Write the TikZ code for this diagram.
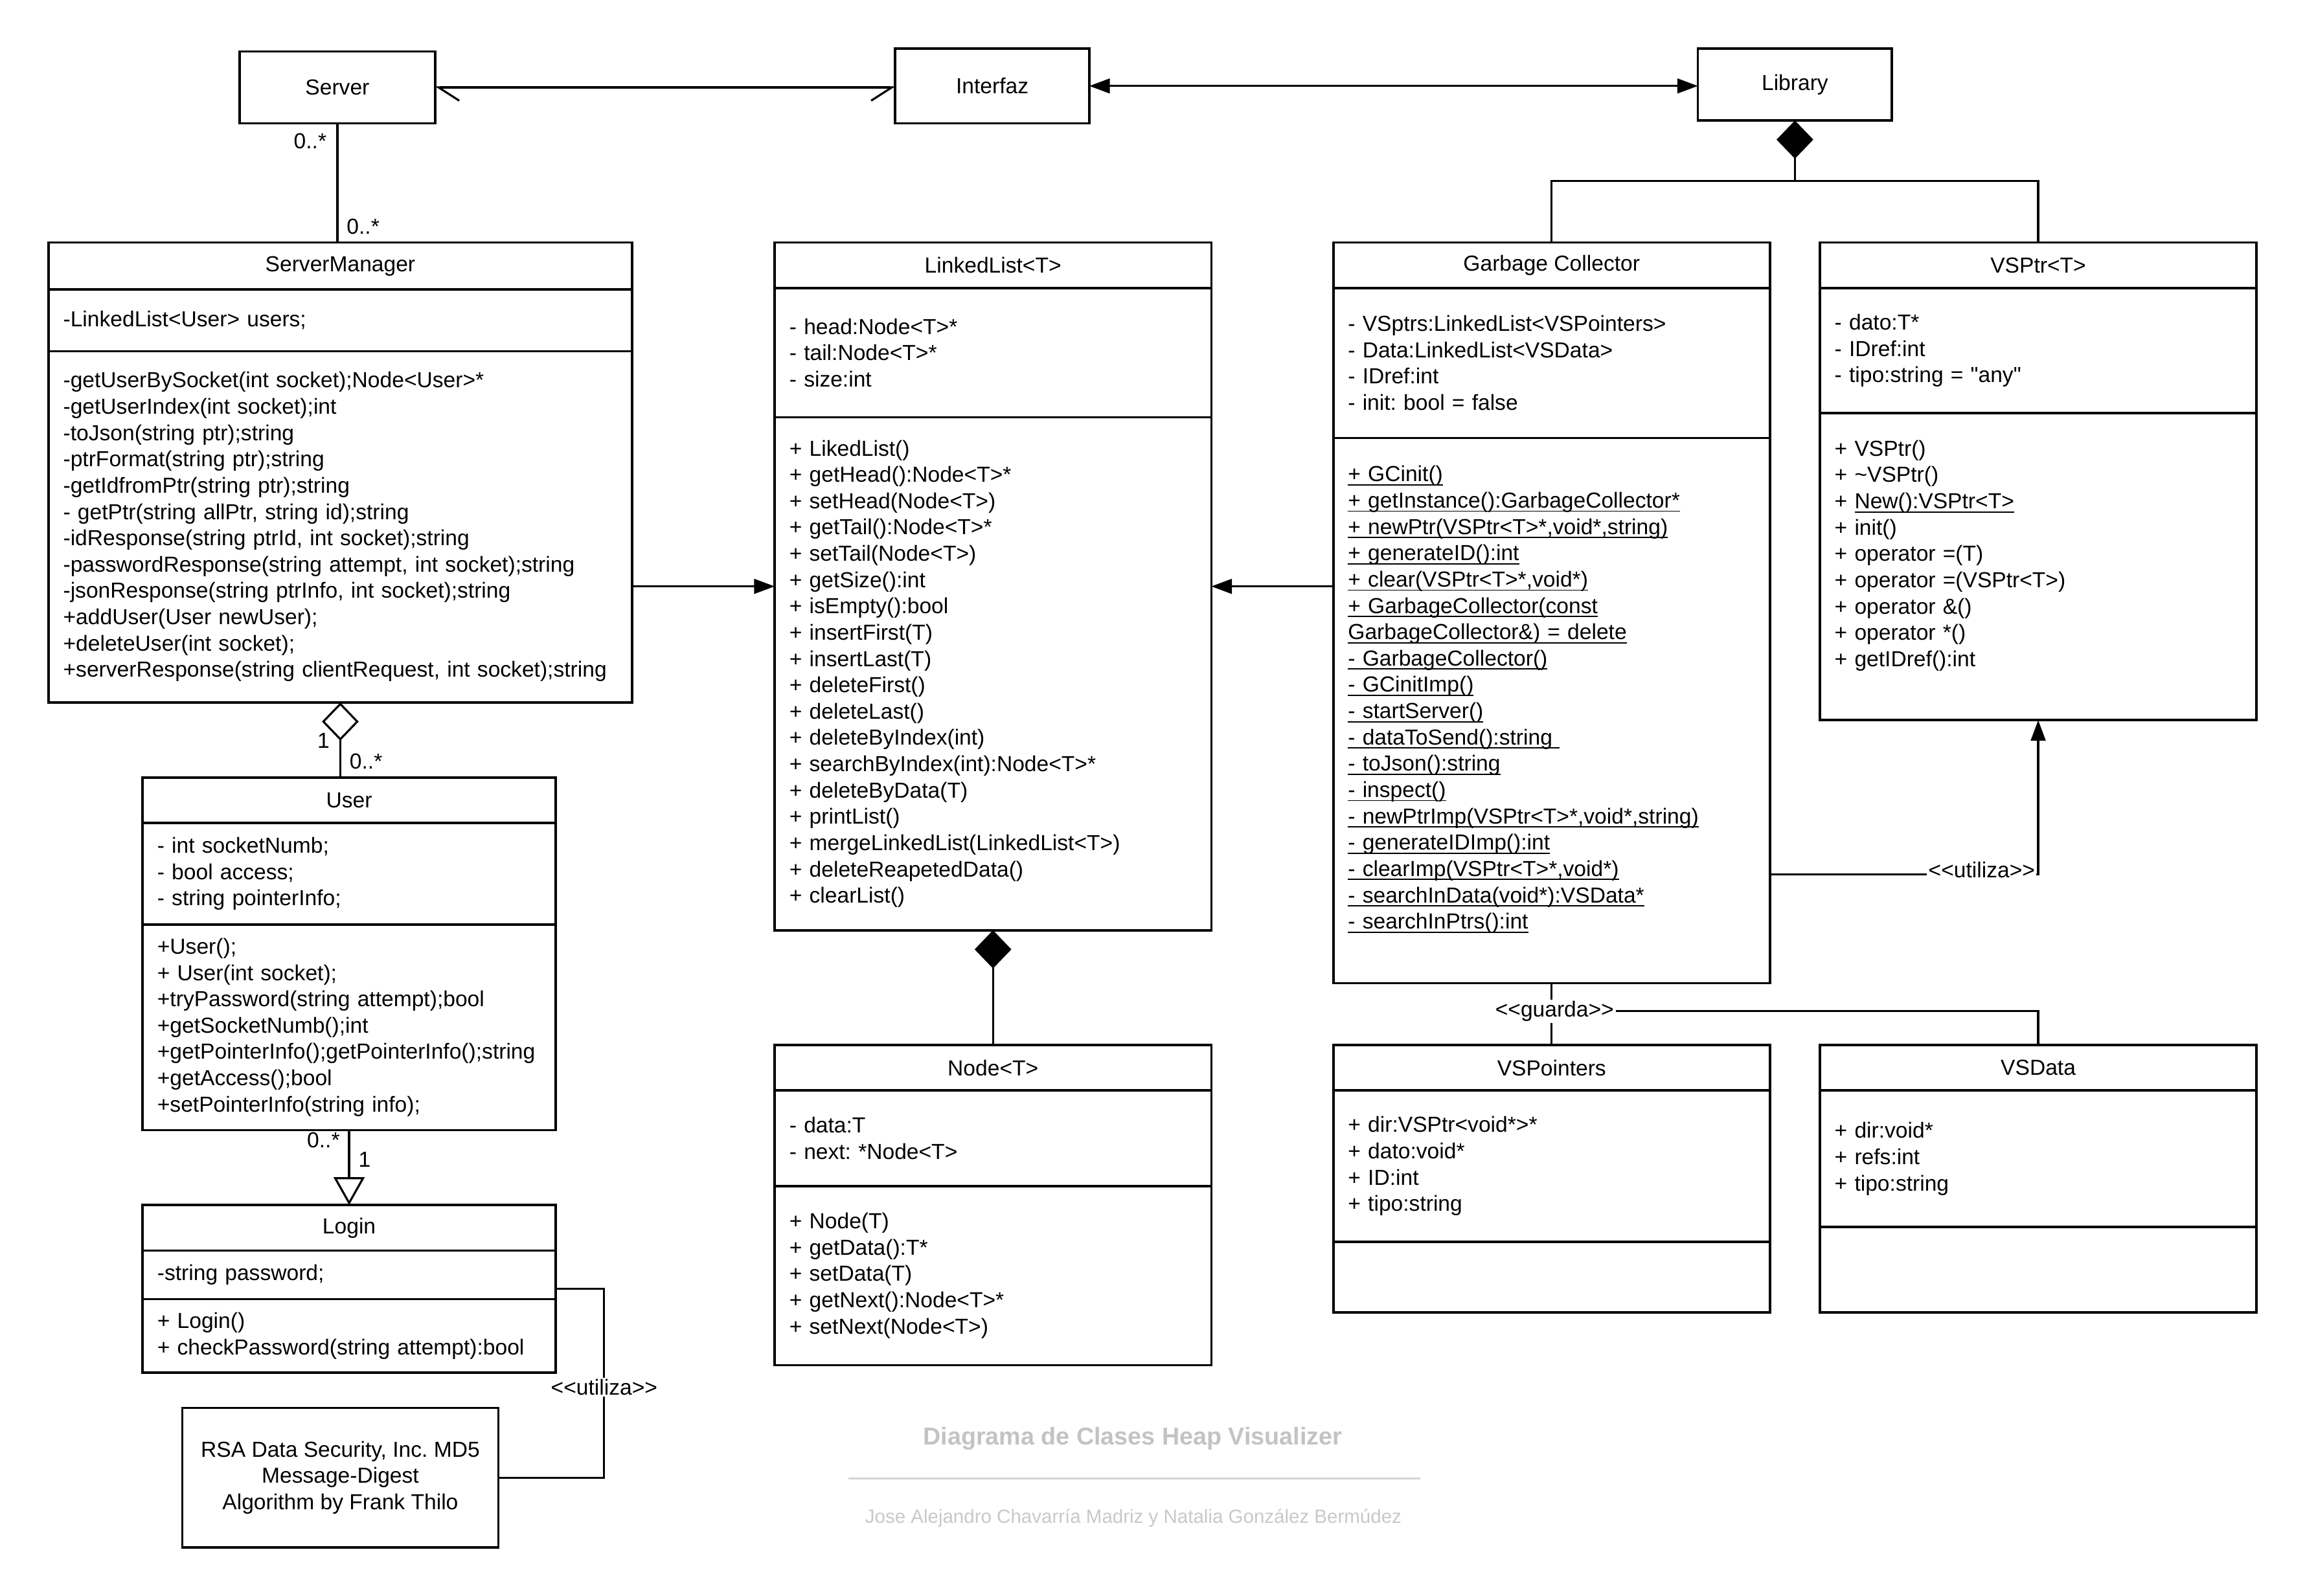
\documentclass[tikz,border=0pt]{standalone}
\usepackage{fontspec}
\setmainfont{Liberation Sans}[Ligatures=TeXOff]
\usetikzlibrary{positioning,arrows.meta}

\definecolor{titlegray}{RGB}{195,195,195}
\definecolor{subgray}{RGB}{200,200,200}
\definecolor{rulegray}{RGB}{212,212,212}

\hyphenpenalty=10000
\frenchspacing

% static member underline
\newsavebox{\ulbox}
\newcommand{\gcul}[1]{\leavevmode\sbox{\ulbox}{#1}\rlap{\rule[-2.6pt]{\wd\ulbox}{0.8pt}}\usebox{\ulbox}}

\tikzset{
  txt/.style={font=\fontsize{14.8}{17.9}\selectfont},
  box/.style={txt, draw, line width=1.6pt, outer sep=0pt, inner sep=0pt},
  head/.style={box, minimum height=31pt, anchor=north west},
  comp/.style={box, align=left, inner xsep=10pt, inner ysep=4pt},
  link/.style={line width=1.4pt},
  lbl/.style={txt, inner sep=1pt},
  tag/.style={lbl, fill=white},
  solidtip/.style={-{Triangle[length=14pt,width=10pt]}},
  compo/.style={{Diamond[length=26pt,width=25pt]}-},
  aggreg/.style={{Diamond[open,length=26pt,width=25pt]}-},
  inherit/.style={-{Triangle[open,length=19pt,width=21pt]}},
}

\begin{document}
\begin{tikzpicture}[x=1pt,y=-1pt]
  \useasboundingbox (0,0) rectangle (1568,1086);

  % plain boxes
  \foreach \nm/\cx/\cy/\w/\h/\txt in {server/229.5/59.5/133/49/Server,
    interfaz/675/58.5/132/51/Interfaz, library/1221/57.5/132/49/Library}
    \node[box, minimum width=\w pt, minimum height=\h pt] (\nm) at (\cx,\cy) {\txt};

  % ServerManager
  \node[head, minimum width=397pt, minimum height=32pt] (smH) at (33,165) {ServerManager};
  \node[comp, text width=377pt, minimum height=42pt, below=0pt of smH] (smA) {-LinkedList<User> users;};
  \node[comp, text width=377pt, minimum height=239pt, below=0pt of smA] (smM) {%
    -getUserBySocket(int socket);Node<User>*\\
    -getUserIndex(int socket);int\\
    -toJson(string ptr);string\\
    -ptrFormat(string ptr);string\\
    -getIdfromPtr(string ptr);string\\
    - getPtr(string allPtr, string id);string\\
    -idResponse(string ptrId, int socket);string\\
    -passwordResponse(string attempt, int socket);string\\
    -jsonResponse(string ptrInfo, int socket);string\\
    +addUser(User newUser);\\
    +deleteUser(int socket);\\
    +serverResponse(string clientRequest, int socket);string};

  % LinkedList
  \node[head, minimum width=297pt] (llH) at (527,165) {LinkedList<T>};
  \node[comp, text width=277pt, minimum height=88pt, below=0pt of llH] (llA) {%
    - head:Node<T>*\\
    - tail:Node<T>*\\
    - size:int};
  \node[comp, text width=277pt, minimum height=349pt, below=0pt of llA] (llM) {%
    + LikedList()\\
    + getHead():Node<T>*\\
    + setHead(Node<T>)\\
    + getTail():Node<T>*\\
    + setTail(Node<T>)\\
    + getSize():int\\
    + isEmpty():bool\\
    + insertFirst(T)\\
    + insertLast(T)\\
    + deleteFirst()\\
    + deleteLast()\\
    + deleteByIndex(int)\\
    + searchByIndex(int):Node<T>*\\
    + deleteByData(T)\\
    + printList()\\
    + mergeLinkedList(LinkedList<T>)\\
    + deleteReapetedData()\\
    + clearList()};

  % Garbage Collector
  \node[head, minimum width=297pt] (gcH) at (907,165) {Garbage Collector};
  \node[comp, text width=277pt, minimum height=102pt, below=0pt of gcH] (gcA) {%
    - VSptrs:LinkedList<VSPointers>\\
    - Data:LinkedList<VSData>\\
    - IDref:int\\
    - init: bool = false};
  \node[comp, text width=277pt, minimum height=371pt, below=0pt of gcA] (gcM) {%
    \gcul{+ GCinit()}\\
    \gcul{+ getInstance():GarbageCollector*}\\
    \gcul{+ newPtr(VSPtr<T>*,void*,string)}\\
    \gcul{+ generateID():int}\\
    \gcul{+ clear(VSPtr<T>*,void*)}\\
    \gcul{+ GarbageCollector(const}\\
    \gcul{GarbageCollector\&) = delete}\\
    \gcul{- GarbageCollector()}\\
    \gcul{- GCinitImp()}\\
    \gcul{- startServer()}\\
    \gcul{- dataToSend():string\ }\\
    \gcul{- toJson():string}\\
    \gcul{- inspect()}\\
    \gcul{- newPtrImp(VSPtr<T>*,void*,string)}\\
    \gcul{- generateIDImp():int}\\
    \gcul{- clearImp(VSPtr<T>*,void*)}\\
    \gcul{- searchInData(void*):VSData*}\\
    \gcul{- searchInPtrs():int}\\
    \mbox{}};

  % VSPtr
  \node[head, minimum width=297pt] (vsH) at (1238,165) {VSPtr<T>};
  \node[comp, text width=277pt, minimum height=85pt, below=0pt of vsH] (vsA) {%
    - dato:T*\\
    - IDref:int\\
    - tipo:string = "any"};
  \node[comp, text width=277pt, minimum height=209pt, below=0pt of vsA] (vsM) {%
    + VSPtr()\\
    + \textasciitilde VSPtr()\\
    + \gcul{New():VSPtr<T>}\\
    + init()\\
    + operator =(T)\\
    + operator =(VSPtr<T>)\\
    + operator \&()\\
    + operator *()\\
    + getIDref():int\\
    \mbox{}};

  % User
  \node[head, minimum width=281pt] (usH) at (97,529) {User};
  \node[comp, text width=261pt, minimum height=69pt, below=0pt of usH] (usA) {%
    - int socketNumb;\\
    - bool access;\\
    - string pointerInfo;};
  \node[comp, text width=261pt, minimum height=140pt, below=0pt of usA] (usM) {%
    +User();\\
    + User(int socket);\\
    +tryPassword(string attempt);bool\\
    +getSocketNumb();int\\
    +getPointerInfo();getPointerInfo();string\\
    +getAccess();bool\\
    +setPointerInfo(string info);};

  % Login
  \node[head, minimum width=281pt] (lgH) at (97,820) {Login};
  \node[comp, text width=261pt, minimum height=33pt, below=0pt of lgH] (lgA) {-string password;};
  \node[comp, text width=261pt, minimum height=50pt, below=0pt of lgA] (lgM) {%
    + Login()\\
    + checkPassword(string attempt):bool};

  % Node<T>
  \node[head, minimum width=297pt] (ndH) at (527,711) {Node<T>};
  \node[comp, text width=277pt, minimum height=65pt, below=0pt of ndH] (ndA) {%
    - data:T\\
    - next: *Node<T>};
  \node[comp, text width=277pt, minimum height=122pt, below=0pt of ndA] (ndM) {%
    + Node(T)\\
    + getData():T*\\
    + setData(T)\\
    + getNext():Node<T>*\\
    + setNext(Node<T>)};

  % VSPointers
  \node[head, minimum width=297pt] (vpH) at (907,711) {VSPointers};
  \node[comp, text width=277pt, minimum height=103pt, below=0pt of vpH] (vpA) {%
    + dir:VSPtr<void*>*\\
    + dato:void*\\
    + ID:int\\
    + tipo:string};
  \node[comp, text width=277pt, minimum height=48pt, below=0pt of vpA] (vpM) {};

  % VSData
  \node[head, minimum width=297pt] (vdH) at (1238,711) {VSData};
  \node[comp, text width=277pt, minimum height=93pt, below=0pt of vdH] (vdA) {%
    + dir:void*\\
    + refs:int\\
    + tipo:string};
  \node[comp, text width=277pt, minimum height=58pt, below=0pt of vdA] (vdM) {};

  % MD5
  \node[box, align=center, minimum width=215pt, minimum height=95pt] (rsa) at (231.5,1005.5)
    {RSA Data Security, Inc. MD5\\Message-Digest\\Algorithm by Frank Thilo};

  % connectors
  \coordinate (midrow) at (0,399);
  \coordinate (userow) at (0,595);
  \coordinate (guardrow) at (0,688);
  \coordinate (libjoin) at (1221,123);
  \coordinate (lgbend) at (411,877);

  \draw[link] (server.south) -- (server.south |- smH.north);
  \draw[link, {Straight Barb[harpoon,length=14pt,width=18pt]}-{Straight Barb[harpoon,swap,length=14pt,width=18pt]}]
    (server.east) -- (server.east -| interfaz.west);
  \draw[link, {Triangle[length=14pt,width=10pt]}-{Triangle[length=14pt,width=10pt]}]
    (interfaz.east) -- (interfaz.east -| library.west);
  \draw[link, compo] (library.south) -- (libjoin);
  \draw[link] (gcH.north) |- (libjoin) -| (vsH.north);
  \draw[link, compo] (llM.south) -- (ndH.north);
  \draw[link, aggreg] (smM.south) -- (smM.south |- usH.north);
  \draw[link, inherit] (usM.south) -- (lgH.north);
  \draw[link, solidtip] (smM.east |- midrow) -- (llM.west |- midrow);
  \draw[link, solidtip] (gcM.west |- midrow) -- (llM.east |- midrow);
  \draw[link, solidtip] (gcM.east |- userow) -| (vsM.south);
  \draw[link] (gcM.south) -- (vpH.north);
  \node[tag, xshift=2pt] (guarda) at (gcM.south |- guardrow) {<<guarda>>};
  \draw[link] (guarda.east) -| (vdH.north);
  \draw[link] (lgA.east |- lgbend) -- (lgbend) |- (rsa.east);
  \node[tag] (utilA) at (411,944) {<<utiliza>>};
  \node[tag, anchor=east, xshift=-1pt, yshift=3pt] (utilB) at (vsM.south |- userow) {<<utiliza>>};

  % multiplicities
  \foreach \nm/\px/\py/\txt in {mA/211/96/0..*, mB/247/154/0..*, mC/220/504/1,
    mD/249/518/0..*, mE/220/776/0..*, mF/248/789/1}
    \node[lbl] (\nm) at (\px,\py) {\txt};

  % title
  \node[font=\bfseries\fontsize{16.6}{20}\selectfont, text=titlegray] (title) at (770.5,979)
    {Diagrama de Clases Heap Visualizer};
  \draw[rulegray, line width=1.2pt] (577,1006) -- (966,1006);
  \node[font=\fontsize{13}{16}\selectfont, text=subgray] (authors) at (771,1033)
    {Jose Alejandro Chavarría Madriz y Natalia González Bermúdez};
\end{tikzpicture}
\end{document}
